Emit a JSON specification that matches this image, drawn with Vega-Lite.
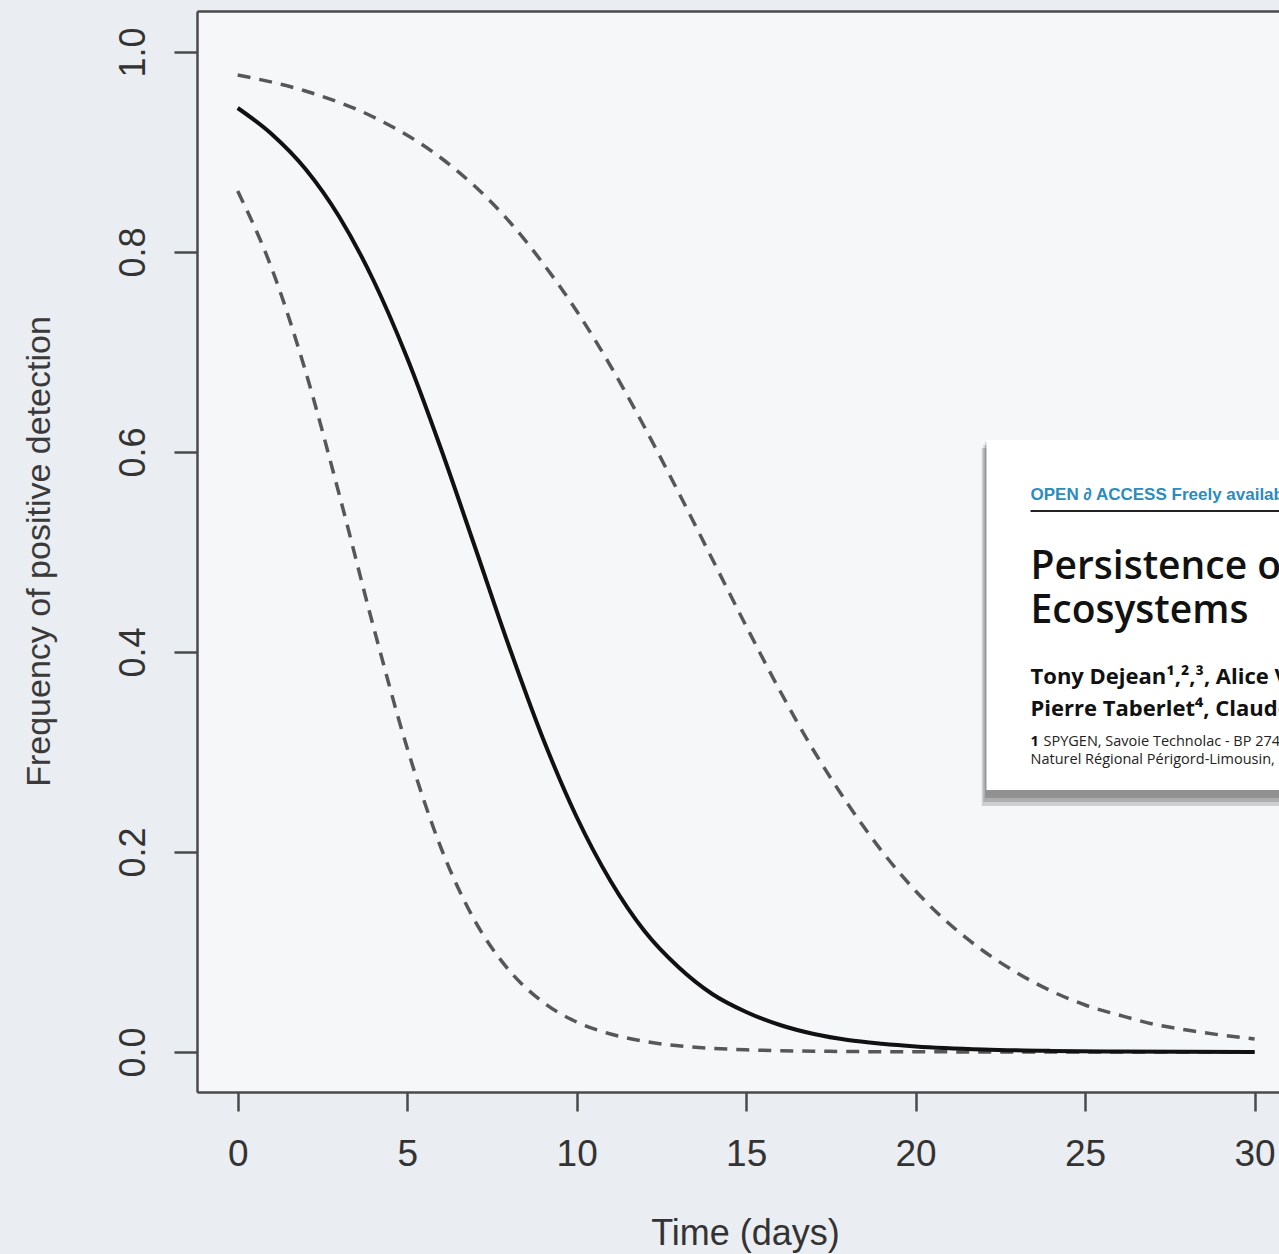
{
  "$schema": "https://vega.github.io/schema/vega-lite/v6.json",
  "width": 1082,
  "height": 1081,
  "autosize": {"type": "none"},
  "padding": {"left": 197, "top": 11, "right": 0, "bottom": 162},
  "background": "#eaedf1",
  "config": {"view": {"stroke": null, "fill": "#f6f7f9"}, "font": "Liberation Sans"},
  "datasets": {
    "curves": [
      {"band": "fit", "t": 0, "p": 0.944},
      {"band": "fit", "t": 1, "p": 0.918},
      {"band": "fit", "t": 2, "p": 0.883},
      {"band": "fit", "t": 3, "p": 0.835},
      {"band": "fit", "t": 4, "p": 0.772},
      {"band": "fit", "t": 5, "p": 0.694},
      {"band": "fit", "t": 6, "p": 0.603},
      {"band": "fit", "t": 7, "p": 0.505},
      {"band": "fit", "t": 8, "p": 0.406},
      {"band": "fit", "t": 9, "p": 0.314},
      {"band": "fit", "t": 10, "p": 0.235},
      {"band": "fit", "t": 11, "p": 0.171},
      {"band": "fit", "t": 12, "p": 0.121},
      {"band": "fit", "t": 13, "p": 0.085},
      {"band": "fit", "t": 14, "p": 0.058},
      {"band": "fit", "t": 15, "p": 0.04},
      {"band": "fit", "t": 16, "p": 0.027},
      {"band": "fit", "t": 17, "p": 0.018},
      {"band": "fit", "t": 18, "p": 0.012},
      {"band": "fit", "t": 19, "p": 0.0083},
      {"band": "fit", "t": 20, "p": 0.0056},
      {"band": "fit", "t": 22, "p": 0.0025},
      {"band": "fit", "t": 24, "p": 0.0011},
      {"band": "fit", "t": 26, "p": 0.0005},
      {"band": "fit", "t": 28, "p": 0.0002},
      {"band": "fit", "t": 30, "p": 0.0001},
      {"band": "upper", "t": 0, "p": 0.977},
      {"band": "upper", "t": 2, "p": 0.961},
      {"band": "upper", "t": 4, "p": 0.935},
      {"band": "upper", "t": 6, "p": 0.894},
      {"band": "upper", "t": 8, "p": 0.831},
      {"band": "upper", "t": 9, "p": 0.789},
      {"band": "upper", "t": 10, "p": 0.741},
      {"band": "upper", "t": 11, "p": 0.686},
      {"band": "upper", "t": 12, "p": 0.625},
      {"band": "upper", "t": 13, "p": 0.56},
      {"band": "upper", "t": 14, "p": 0.493},
      {"band": "upper", "t": 15, "p": 0.426},
      {"band": "upper", "t": 16, "p": 0.361},
      {"band": "upper", "t": 17, "p": 0.301},
      {"band": "upper", "t": 18, "p": 0.248},
      {"band": "upper", "t": 19, "p": 0.201},
      {"band": "upper", "t": 20, "p": 0.161},
      {"band": "upper", "t": 21, "p": 0.128},
      {"band": "upper", "t": 22, "p": 0.101},
      {"band": "upper", "t": 23, "p": 0.079},
      {"band": "upper", "t": 24, "p": 0.061},
      {"band": "upper", "t": 25, "p": 0.047},
      {"band": "upper", "t": 26, "p": 0.037},
      {"band": "upper", "t": 27, "p": 0.028},
      {"band": "upper", "t": 28, "p": 0.022},
      {"band": "upper", "t": 29, "p": 0.017},
      {"band": "upper", "t": 30, "p": 0.013},
      {"band": "lower", "t": 0, "p": 0.861},
      {"band": "lower", "t": 1, "p": 0.784},
      {"band": "lower", "t": 2, "p": 0.681},
      {"band": "lower", "t": 3, "p": 0.557},
      {"band": "lower", "t": 4, "p": 0.426},
      {"band": "lower", "t": 5, "p": 0.304},
      {"band": "lower", "t": 6, "p": 0.204},
      {"band": "lower", "t": 7, "p": 0.131},
      {"band": "lower", "t": 8, "p": 0.082},
      {"band": "lower", "t": 9, "p": 0.05},
      {"band": "lower", "t": 10, "p": 0.03},
      {"band": "lower", "t": 11, "p": 0.018},
      {"band": "lower", "t": 12, "p": 0.0106},
      {"band": "lower", "t": 13, "p": 0.0062},
      {"band": "lower", "t": 14, "p": 0.0037},
      {"band": "lower", "t": 15, "p": 0.0022},
      {"band": "lower", "t": 17, "p": 0.0008},
      {"band": "lower", "t": 20, "p": 0.0002},
      {"band": "lower", "t": 25, "p": 0.0},
      {"band": "lower", "t": 30, "p": 0.0}
    ],
    "shadow": [
      {"t1": 21.95, "t2": 31.6, "p1": 0.246, "p2": 0.604},
      {"t1": 22.0, "t2": 31.6, "p1": 0.25, "p2": 0.607},
      {"t1": 22.05, "t2": 31.6, "p1": 0.254, "p2": 0.61}
    ],
    "box": [{"t1": 22.09, "t2": 31.6, "p1": 0.262, "p2": 0.612}],
    "rule": [{"t1": 23.39, "t2": 31.6, "p": 0.541}],
    "inset": [
      {"role": "header", "t": 23.39, "p": 0.552, "line": "OPEN ∂ ACCESS  Freely available online"},
      {"role": "title", "t": 23.39, "p": 0.473, "line": "Persistence of Environmental DNA in Freshwater"},
      {"role": "title", "t": 23.39, "p": 0.429, "line": "Ecosystems"},
      {"role": "authors", "t": 23.39, "p": 0.368, "line": "Tony Dejean¹,²,³, Alice Valentini¹, Antoine Duparc⁴, Stéphanie Pellier-Cuit²,"},
      {"role": "authors", "t": 23.39, "p": 0.336, "line": "Pierre Taberlet⁴, Claude Miaud³*"},
      {"role": "affilnum", "t": 23.39, "p": 0.306, "line": "1"},
      {"role": "affil1", "t": 23.39, "p": 0.306, "line": "SPYGEN, Savoie Technolac - BP 274, Le Bourget-du-Lac, France, 2 Parc"},
      {"role": "affil2", "t": 23.39, "p": 0.288, "line": "Naturel Régional Périgord-Limousin, La Barde, La Coquille, France"}
    ]
  },
  "layer": [
    {
      "data": {"name": "curves"},
      "transform": [{"filter": "datum.band === 'upper'"}],
      "mark": {"type": "line", "stroke": "#575757", "strokeWidth": 3.5, "strokeDash": [13, 9], "interpolate": "monotone"},
      "encoding": {
        "x": {"field": "t", "type": "quantitative", "scale": {"domain": [-1.2, 30.72], "nice": false, "zero": false},
          "axis": {"orient": "bottom", "values": [0, 5, 10, 15, 20, 25, 30], "grid": false, "title": "Time (days)",
            "domainColor": "#4a4a4a", "domainWidth": 2.5, "tickColor": "#4a4a4a", "tickWidth": 2.5, "tickSize": 19,
            "labelFont": "Liberation Sans", "labelFontSize": 37, "labelColor": "#333333", "labelBaseline": "alphabetic", "labelPadding": 54,
            "labelFlush": false, "labelOverlap": false, "labelBound": false,
            "titleFont": "Liberation Sans", "titleFontSize": 36, "titleFontWeight": "normal", "titleColor": "#333333",
            "titleX": 548, "titleY": 152, "titleAlign": "center", "titleBaseline": "alphabetic"}},
        "y": {"field": "p", "type": "quantitative", "title": "Frequency of positive detection", "scale": {"domain": [-0.04, 1.041], "nice": false, "zero": false},
          "axis": {"orient": "left", "values": [0, 0.2, 0.4, 0.6, 0.8, 1.0], "format": ".1f", "grid": false,
            "domainColor": "#4a4a4a", "domainWidth": 2.5, "tickColor": "#4a4a4a", "tickWidth": 2.5, "tickSize": 23,
            "labelFont": "Liberation Sans", "labelFontSize": 36, "labelColor": "#333333", "labelAngle": -90, "labelAlign": "center", "labelBaseline": "alphabetic", "labelPadding": 30,
            "labelFlush": false, "labelOverlap": false, "labelBound": false,
            "titleFont": "Liberation Sans", "titleFontSize": 34, "titleFontWeight": "normal", "titleColor": "#3a3a3a",
            "titleAngle": -90, "titleX": -148, "titleY": 540, "titleAlign": "center", "titleBaseline": "alphabetic"}}
      }
    },
    {
      "data": {"name": "curves"},
      "transform": [{"filter": "datum.band === 'lower'"}],
      "mark": {"type": "line", "stroke": "#575757", "strokeWidth": 3.5, "strokeDash": [13, 9], "interpolate": "monotone"},
      "encoding": {
        "x": {"field": "t", "type": "quantitative",
          "axis": {"orient": "top", "labels": false, "ticks": false, "grid": false, "title": null, "domainColor": "#4a4a4a", "domainWidth": 2.5}},
        "y": {"field": "p", "type": "quantitative", "title": "Frequency of positive detection"}
      }
    },
    {
      "data": {"name": "curves"},
      "transform": [{"filter": "datum.band === 'fit'"}],
      "mark": {"type": "line", "stroke": "#111111", "strokeWidth": 4, "interpolate": "monotone"},
      "encoding": {
        "x": {"field": "t", "type": "quantitative", "axis": null},
        "y": {"field": "p", "type": "quantitative", "title": "Frequency of positive detection"}
      }
    },
    {
      "data": {"name": "shadow"},
      "mark": {"type": "rect", "fill": "#000000", "opacity": 0.16},
      "encoding": {
        "x": {"field": "t1", "type": "quantitative", "axis": null},
        "x2": {"field": "t2"},
        "y": {"field": "p1", "type": "quantitative", "title": "Frequency of positive detection"},
        "y2": {"field": "p2"}
      }
    },
    {
      "data": {"name": "box"},
      "mark": {"type": "rect", "fill": "#ffffff"},
      "encoding": {
        "x": {"field": "t1", "type": "quantitative", "axis": null},
        "x2": {"field": "t2"},
        "y": {"field": "p1", "type": "quantitative", "title": "Frequency of positive detection"},
        "y2": {"field": "p2"}
      }
    },
    {
      "data": {"name": "rule"},
      "mark": {"type": "rule", "stroke": "#222222", "strokeWidth": 2},
      "encoding": {
        "x": {"field": "t1", "type": "quantitative", "axis": null},
        "x2": {"field": "t2"},
        "y": {"field": "p", "type": "quantitative", "title": "Frequency of positive detection"}
      }
    },
    {
      "data": {"name": "inset"},
      "transform": [{"filter": "datum.role === 'header'"}],
      "mark": {"type": "text", "align": "left", "baseline": "alphabetic", "font": "Liberation Sans", "fontWeight": "bold", "fontSize": 17, "fill": "#2a8cbf"},
      "encoding": {
        "x": {"field": "t", "type": "quantitative", "axis": null},
        "y": {"field": "p", "type": "quantitative", "title": "Frequency of positive detection"},
        "text": {"field": "line"}
      }
    },
    {
      "data": {"name": "inset"},
      "transform": [{"filter": "datum.role === 'title'"}],
      "mark": {"type": "text", "align": "left", "baseline": "alphabetic", "font": "Open Sans", "fontWeight": 600, "fontSize": 39, "fill": "#111111"},
      "encoding": {
        "x": {"field": "t", "type": "quantitative", "axis": null},
        "y": {"field": "p", "type": "quantitative", "title": "Frequency of positive detection"},
        "text": {"field": "line"}
      }
    },
    {
      "data": {"name": "inset"},
      "transform": [{"filter": "datum.role === 'authors'"}],
      "mark": {"type": "text", "align": "left", "baseline": "alphabetic", "font": "Open Sans", "fontWeight": "bold", "fontSize": 22, "fill": "#111111"},
      "encoding": {
        "x": {"field": "t", "type": "quantitative", "axis": null},
        "y": {"field": "p", "type": "quantitative", "title": "Frequency of positive detection"},
        "text": {"field": "line"}
      }
    },
    {
      "data": {"name": "inset"},
      "transform": [{"filter": "datum.role === 'affilnum'"}],
      "mark": {"type": "text", "align": "left", "baseline": "alphabetic", "font": "Open Sans", "fontWeight": "bold", "fontSize": 14.5, "fill": "#111111"},
      "encoding": {
        "x": {"field": "t", "type": "quantitative", "axis": null},
        "y": {"field": "p", "type": "quantitative", "title": "Frequency of positive detection"},
        "text": {"field": "line"}
      }
    },
    {
      "data": {"name": "inset"},
      "transform": [{"filter": "datum.role === 'affil1'"}],
      "mark": {"type": "text", "align": "left", "baseline": "alphabetic", "font": "Open Sans", "fontSize": 14.5, "fill": "#222222", "dx": 13},
      "encoding": {
        "x": {"field": "t", "type": "quantitative", "axis": null},
        "y": {"field": "p", "type": "quantitative", "title": "Frequency of positive detection"},
        "text": {"field": "line"}
      }
    },
    {
      "data": {"name": "inset"},
      "transform": [{"filter": "datum.role === 'affil2'"}],
      "mark": {"type": "text", "align": "left", "baseline": "alphabetic", "font": "Open Sans", "fontSize": 14.5, "fill": "#222222"},
      "encoding": {
        "x": {"field": "t", "type": "quantitative", "axis": null},
        "y": {"field": "p", "type": "quantitative", "title": "Frequency of positive detection"},
        "text": {"field": "line"}
      }
    }
  ],
  "resolve": {"axis": {"x": "independent"}}
}
